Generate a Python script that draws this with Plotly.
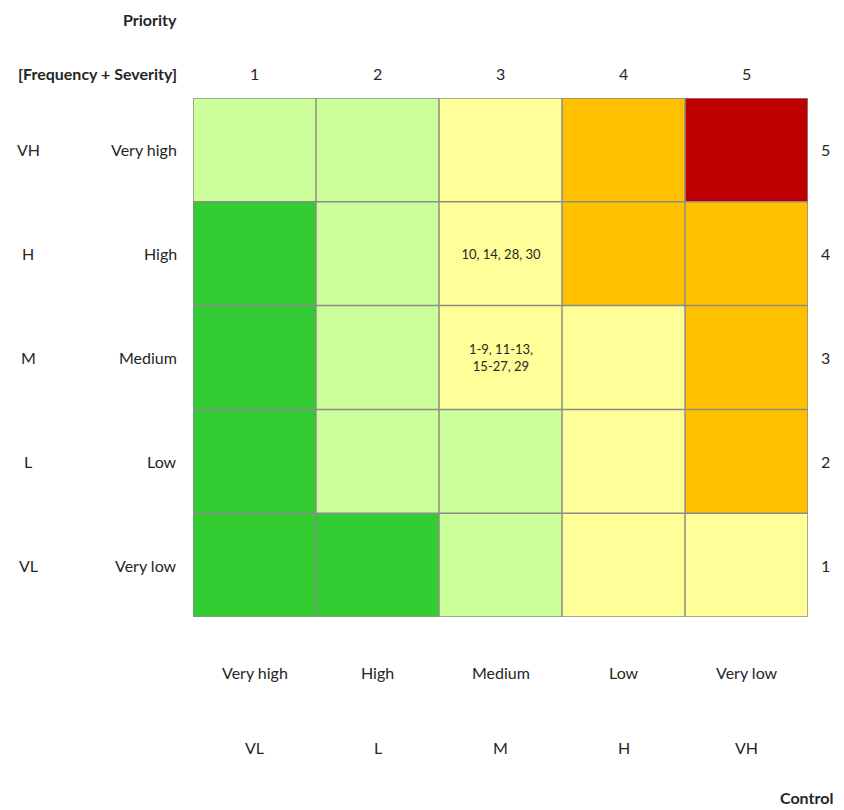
import plotly.graph_objects as go

# Risk matrix: rows are likelihood levels (top to bottom), columns are control levels
row_labels = ["Very high", "High", "Medium", "Low", "Very low"]
row_codes = ["VH", "H", "M", "L", "VL"]
row_scores = ["5", "4", "3", "2", "1"]
col_labels = ["Very high", "High", "Medium", "Low", "Very low"]
col_codes = ["VL", "L", "M", "H", "VH"]
col_priority = ["1", "2", "3", "4", "5"]

# Risk level per cell: 0 green, 1 light green, 2 yellow, 3 orange, 4 red
levels = [
    [1, 1, 2, 3, 4],
    [0, 1, 2, 3, 3],
    [0, 1, 2, 2, 3],
    [0, 1, 1, 2, 3],
    [0, 0, 1, 2, 2],
]
cell_text = [
    ["", "", "", "", ""],
    ["", "", "10, 14, 28, 30", "", ""],
    ["", "", "1-9, 11-13,<br>15-27, 29", "", ""],
    ["", "", "", "", ""],
    ["", "", "", "", ""],
]
level_colors = ["#33cc33", "#ccff99", "#ffff99", "#ffc000", "#c00000"]

FONT = "Lato, Open Sans, sans-serif"
TXT = "#262626"
GRID = "#8c8c8c"

colorscale = []
for i, c in enumerate(level_colors):
    colorscale.append([i / 5, c])
    colorscale.append([(i + 1) / 5, c])

n_cols = len(col_labels)
n_rows = len(row_labels)
xs = list(range(n_cols))
ys = list(range(n_rows))

fig = go.Figure(
    go.Heatmap(
        z=levels,
        x=xs,
        y=ys,
        text=cell_text,
        texttemplate="%{text}",
        textfont=dict(family=FONT, size=13, color=TXT),
        colorscale=colorscale,
        zmin=-0.5,
        zmax=4.5,
        showscale=False,
        hoverinfo="skip",
    )
)

# Cell borders along every category boundary
gx, gy = [], []
for k in range(n_cols + 1):
    gx += [k - 0.5, k - 0.5, None]
    gy += [-0.5, n_rows - 0.5, None]
for k in range(n_rows + 1):
    gx += [-0.5, n_cols - 0.5, None]
    gy += [k - 0.5, k - 0.5, None]
fig.add_trace(go.Scatter(x=gx, y=gy, mode="lines", line=dict(color=GRID, width=1.5),
                         hoverinfo="skip", showlegend=False, cliponaxis=False))

annotations = []
# Top priority numbers
for i, t in enumerate(col_priority):
    annotations.append(dict(x=i, y=73, xref="x", yref="paper", text=t, showarrow=False))
# Bottom control labels
for i, t in enumerate(col_labels):
    annotations.append(dict(x=i, y=672, xref="x", yref="paper", text=t, showarrow=False))
for i, t in enumerate(col_codes):
    annotations.append(dict(x=i, y=747, xref="x", yref="paper", text=t, showarrow=False))
# Left codes and names, right scores
for j in range(n_rows):
    annotations.append(dict(x=28, y=j, xref="paper", yref="y", text=row_codes[j],
                            showarrow=False, xanchor="center"))
    annotations.append(dict(x=179, y=j, xref="paper", yref="y", text=row_labels[j],
                            showarrow=False, xanchor="right"))
    annotations.append(dict(x=825, y=j, xref="paper", yref="y", text=row_scores[j],
                            showarrow=False, xanchor="center"))
annotations.append(dict(x=179, y=20, xref="paper", yref="paper", text="<b>Priority</b>",
                        showarrow=False, xanchor="right"))
annotations.append(dict(x=179, y=73, xref="paper", yref="paper",
                        text="<b>[Frequency + Severity]</b>", showarrow=False, xanchor="right"))
annotations.append(dict(x=806, y=797, xref="paper", yref="paper", text="<b>Control</b>",
                        showarrow=False, xanchor="center"))

# Pixel-based paper positions converted into paper fractions
L, R, T, B = 193, 36, 98, 193
W, H = 844, 810
pw, ph = W - L - R, H - T - B
for a in annotations:
    if a["xref"] == "paper":
        a["x"] = (a["x"] - L) / pw
    if a["yref"] == "paper":
        a["y"] = 1 - (a["y"] - T) / ph
    a["yanchor"] = "middle"
    a.setdefault("font", dict(family=FONT, size=16, color=TXT))

fig.update_layout(
    width=W,
    height=H,
    margin=dict(l=L, r=R, t=T, b=B),
    paper_bgcolor="white",
    plot_bgcolor="white",
    annotations=annotations,
    showlegend=False,
    xaxis=dict(range=[-0.5, 4.5], showticklabels=False, showgrid=False, zeroline=False,
               showline=False, fixedrange=True),
    yaxis=dict(range=[4.5, -0.5], showticklabels=False, showgrid=False, zeroline=False,
               showline=False, fixedrange=True),
)

fig.write_html("out.html")
